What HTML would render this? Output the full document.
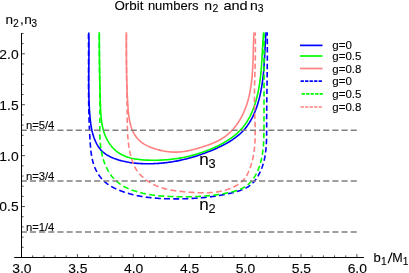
<!DOCTYPE html>
<html><head><meta charset="utf-8"><title>Orbit numbers</title>
<style>
html,body{margin:0;padding:0;background:#fff;}
body{width:409px;height:273px;overflow:hidden;font-family:"Liberation Sans",sans-serif;}
svg{display:block;position:absolute;left:0;top:0;will-change:transform;}
text{font-family:"Liberation Sans",sans-serif;fill:#000;stroke:#000;stroke-width:0.1px;}
</style></head><body>
<svg width="409" height="273" viewBox="0 0 409 273">
<rect width="409" height="273" fill="#fff"/>
<g fill="none" stroke-width="1.6" stroke-linejoin="round">
<path d="M88.75,32.43 L88.78,33.67 L88.81,34.92 L88.83,36.17 L88.85,37.42 L88.87,38.67 L88.89,39.92 L88.90,41.17 L88.91,42.43 L88.92,43.68 L88.92,44.94 L88.93,46.19 L88.93,47.45 L88.93,48.70 L88.93,49.96 L88.92,51.22 L88.92,52.48 L88.91,53.74 L88.90,55.00 L88.89,56.26 L88.89,57.52 L88.87,58.78 L88.86,60.04 L88.85,61.30 L88.84,62.56 L88.83,63.82 L88.82,65.09 L88.80,66.35 L88.79,67.61 L88.78,68.87 L88.77,70.14 L88.76,71.40 L88.75,72.66 L88.74,73.93 L88.73,75.19 L88.72,76.45 L88.72,77.72 L88.72,78.98 L88.71,80.24 L88.71,81.50 L88.71,82.77 L88.72,84.03 L88.72,85.29 L88.73,86.55 L88.74,87.81 L88.75,89.07 L88.77,90.34 L88.79,91.60 L88.81,92.86 L88.84,94.11 L88.86,95.37 L88.89,96.63 L88.93,97.89 L88.97,99.15 L89.01,100.40 L89.06,101.66 L89.11,102.91 L89.16,104.17 L89.22,105.42 L89.29,106.67 L89.35,107.93 L89.43,109.18 L89.51,110.43 L89.59,111.68 L89.68,112.93 L89.77,114.17 L89.87,115.42 L89.98,116.67 L90.09,117.91 L90.21,119.15 L90.34,120.39 L90.48,121.63 L90.63,122.87 L90.80,124.11 L90.98,125.34 L91.18,126.57 L91.39,127.80 L91.63,129.02 L91.88,130.24 L92.16,131.46 L92.46,132.68 L92.79,133.89 L93.14,135.09 L93.52,136.30 L93.93,137.50 L94.37,138.69 L94.85,139.88 L95.35,141.06 L95.90,142.24 L96.47,143.41 L97.09,144.55 L97.74,145.68 L98.43,146.78 L99.16,147.84 L99.93,148.86 L100.74,149.83 L101.59,150.74 L102.48,151.61 L103.40,152.42 L104.37,153.18 L105.36,153.90 L106.38,154.58 L107.43,155.21 L108.50,155.81 L109.59,156.38 L110.70,156.92 L111.82,157.43 L112.96,157.91 L114.10,158.38 L115.26,158.82 L116.43,159.23 L117.61,159.63 L118.79,160.01 L119.99,160.36 L121.19,160.69 L122.40,161.01 L123.62,161.30 L124.85,161.58 L126.08,161.84 L127.32,162.07 L128.56,162.30 L129.81,162.50 L131.06,162.69 L132.32,162.86 L133.58,163.01 L134.85,163.15 L136.12,163.27 L137.39,163.38 L138.66,163.47 L139.93,163.55 L141.21,163.62 L142.48,163.67 L143.76,163.71 L145.04,163.74 L146.31,163.76 L147.59,163.76 L148.86,163.76 L150.13,163.74 L151.40,163.71 L152.66,163.68 L153.93,163.63 L155.19,163.57 L156.45,163.50 L157.70,163.43 L158.96,163.34 L160.21,163.24 L161.46,163.13 L162.71,163.02 L163.95,162.89 L165.19,162.75 L166.44,162.61 L167.67,162.45 L168.91,162.28 L170.14,162.11 L171.38,161.92 L172.61,161.73 L173.84,161.52 L175.06,161.31 L176.29,161.09 L177.51,160.85 L178.73,160.61 L179.95,160.36 L181.17,160.10 L182.38,159.83 L183.59,159.55 L184.80,159.26 L186.01,158.97 L187.22,158.66 L188.43,158.34 L189.63,158.02 L190.83,157.69 L192.03,157.34 L193.23,156.99 L194.43,156.63 L195.63,156.26 L196.82,155.89 L198.01,155.50 L199.20,155.11 L200.39,154.70 L201.58,154.29 L202.77,153.87 L203.95,153.44 L205.14,153.00 L206.32,152.55 L207.50,152.10 L208.68,151.63 L209.86,151.16 L211.04,150.68 L212.21,150.19 L213.39,149.70 L214.56,149.19 L215.73,148.68 L216.90,148.16 L218.06,147.62 L219.22,147.08 L220.38,146.53 L221.53,145.97 L222.67,145.39 L223.81,144.81 L224.94,144.21 L226.06,143.60 L227.17,142.98 L228.27,142.34 L229.36,141.69 L230.43,141.03 L231.50,140.35 L232.55,139.65 L233.59,138.94 L234.61,138.22 L235.62,137.48 L236.61,136.72 L237.59,135.94 L238.54,135.15 L239.48,134.34 L240.40,133.51 L241.30,132.66 L242.18,131.79 L243.04,130.90 L243.87,130.00 L244.68,129.07 L245.47,128.12 L246.24,127.15 L246.99,126.17 L247.71,125.16 L248.41,124.14 L249.10,123.10 L249.76,122.05 L250.40,120.98 L251.02,119.90 L251.62,118.80 L252.21,117.69 L252.77,116.56 L253.32,115.43 L253.84,114.28 L254.35,113.12 L254.85,111.95 L255.32,110.77 L255.78,109.58 L256.22,108.39 L256.65,107.18 L257.06,105.97 L257.46,104.76 L257.84,103.53 L258.20,102.31 L258.55,101.08 L258.89,99.84 L259.22,98.60 L259.53,97.36 L259.82,96.12 L260.11,94.87 L260.38,93.63 L260.64,92.38 L260.89,91.14 L261.13,89.90 L261.36,88.65 L261.58,87.41 L261.78,86.17 L261.98,84.93 L262.17,83.68 L262.35,82.44 L262.51,81.20 L262.68,79.96 L262.83,78.72 L262.97,77.48 L263.11,76.23 L263.24,74.99 L263.37,73.75 L263.49,72.51 L263.60,71.27 L263.71,70.02 L263.81,68.78 L263.90,67.54 L264.00,66.29 L264.08,65.05 L264.17,63.81 L264.25,62.56 L264.33,61.31 L264.40,60.07 L264.47,58.82 L264.55,57.57 L264.61,56.32 L264.68,55.07 L264.75,53.82 L264.81,52.57 L264.88,51.32 L264.94,50.06 L265.01,48.81 L265.08,47.55 L265.15,46.29 L265.21,45.03 L265.29,43.77 L265.36,42.51 L265.44,41.25 L265.51,39.98 L265.60,38.72 L265.68,37.45 L265.77,36.18 L265.87,34.91 L265.96,33.64 L266.07,32.36" stroke="#0000ff"/>
<path d="M99.29,32.35 L99.30,33.58 L99.31,34.80 L99.31,36.02 L99.32,37.24 L99.33,38.45 L99.34,39.67 L99.35,40.88 L99.36,42.09 L99.36,43.30 L99.37,44.51 L99.38,45.71 L99.39,46.91 L99.40,48.12 L99.41,49.32 L99.42,50.52 L99.43,51.71 L99.44,52.91 L99.45,54.11 L99.46,55.30 L99.47,56.49 L99.48,57.69 L99.49,58.88 L99.50,60.07 L99.52,61.26 L99.53,62.45 L99.54,63.64 L99.56,64.83 L99.57,66.02 L99.58,67.21 L99.60,68.39 L99.62,69.58 L99.63,70.77 L99.65,71.96 L99.67,73.14 L99.68,74.33 L99.70,75.52 L99.72,76.71 L99.74,77.89 L99.76,79.08 L99.78,80.27 L99.81,81.46 L99.83,82.65 L99.85,83.84 L99.88,85.03 L99.90,86.23 L99.93,87.42 L99.96,88.61 L99.99,89.81 L100.02,91.01 L100.05,92.20 L100.08,93.40 L100.11,94.60 L100.14,95.80 L100.18,97.01 L100.21,98.21 L100.25,99.42 L100.29,100.62 L100.33,101.83 L100.36,103.05 L100.41,104.26 L100.45,105.47 L100.49,106.69 L100.54,107.91 L100.59,109.13 L100.65,110.35 L100.71,111.57 L100.78,112.79 L100.86,114.00 L100.94,115.22 L101.04,116.43 L101.16,117.65 L101.28,118.85 L101.42,120.06 L101.57,121.26 L101.74,122.46 L101.93,123.65 L102.14,124.84 L102.37,126.02 L102.62,127.19 L102.89,128.36 L103.19,129.52 L103.51,130.68 L103.85,131.82 L104.23,132.96 L104.63,134.08 L105.06,135.20 L105.52,136.31 L106.01,137.41 L106.53,138.49 L107.08,139.56 L107.65,140.61 L108.26,141.64 L108.89,142.65 L109.55,143.65 L110.24,144.62 L110.96,145.57 L111.71,146.49 L112.48,147.38 L113.27,148.25 L114.10,149.09 L114.94,149.90 L115.82,150.67 L116.72,151.41 L117.64,152.12 L118.59,152.78 L119.56,153.41 L120.56,154.01 L121.57,154.57 L122.61,155.09 L123.67,155.59 L124.75,156.05 L125.84,156.48 L126.95,156.88 L128.08,157.25 L129.22,157.59 L130.37,157.91 L131.54,158.20 L132.72,158.47 L133.91,158.71 L135.11,158.93 L136.31,159.13 L137.53,159.31 L138.75,159.47 L139.98,159.61 L141.21,159.73 L142.45,159.84 L143.68,159.93 L144.92,160.01 L146.16,160.08 L147.40,160.13 L148.64,160.17 L149.88,160.21 L151.11,160.23 L152.34,160.24 L153.56,160.25 L154.78,160.25 L156.00,160.23 L157.22,160.21 L158.43,160.18 L159.64,160.15 L160.84,160.10 L162.04,160.04 L163.24,159.98 L164.44,159.90 L165.63,159.82 L166.82,159.72 L168.01,159.62 L169.19,159.51 L170.37,159.39 L171.55,159.26 L172.73,159.12 L173.90,158.98 L175.08,158.82 L176.24,158.65 L177.41,158.48 L178.58,158.29 L179.74,158.10 L180.90,157.89 L182.06,157.68 L183.22,157.46 L184.38,157.23 L185.53,156.98 L186.68,156.73 L187.83,156.47 L188.98,156.20 L190.13,155.92 L191.28,155.63 L192.42,155.33 L193.57,155.02 L194.71,154.70 L195.85,154.38 L196.99,154.04 L198.13,153.69 L199.27,153.33 L200.41,152.96 L201.54,152.58 L202.68,152.20 L203.82,151.80 L204.95,151.39 L206.08,150.97 L207.21,150.54 L208.34,150.10 L209.46,149.65 L210.58,149.19 L211.70,148.72 L212.81,148.24 L213.92,147.74 L215.03,147.24 L216.13,146.72 L217.22,146.20 L218.32,145.66 L219.40,145.11 L220.48,144.54 L221.55,143.97 L222.62,143.38 L223.67,142.78 L224.73,142.17 L225.77,141.55 L226.81,140.91 L227.83,140.26 L228.85,139.60 L229.86,138.93 L230.85,138.24 L231.83,137.54 L232.80,136.82 L233.76,136.09 L234.70,135.34 L235.63,134.58 L236.54,133.80 L237.43,133.01 L238.30,132.20 L239.16,131.37 L239.99,130.53 L240.80,129.67 L241.60,128.79 L242.37,127.90 L243.12,126.99 L243.85,126.06 L244.56,125.12 L245.25,124.16 L245.93,123.19 L246.58,122.21 L247.21,121.21 L247.83,120.20 L248.43,119.18 L249.01,118.14 L249.57,117.10 L250.11,116.04 L250.64,114.97 L251.15,113.89 L251.64,112.80 L252.12,111.70 L252.58,110.60 L253.03,109.48 L253.46,108.36 L253.88,107.23 L254.28,106.10 L254.67,104.95 L255.05,103.80 L255.41,102.65 L255.75,101.49 L256.09,100.33 L256.41,99.16 L256.72,97.99 L257.01,96.82 L257.30,95.64 L257.57,94.46 L257.83,93.28 L258.08,92.10 L258.32,90.92 L258.55,89.73 L258.77,88.55 L258.99,87.37 L259.19,86.18 L259.38,84.99 L259.56,83.81 L259.74,82.62 L259.90,81.43 L260.06,80.24 L260.21,79.05 L260.36,77.86 L260.49,76.66 L260.63,75.47 L260.75,74.28 L260.87,73.09 L260.98,71.89 L261.09,70.70 L261.19,69.50 L261.29,68.31 L261.38,67.11 L261.47,65.92 L261.56,64.72 L261.64,63.52 L261.72,62.33 L261.80,61.13 L261.87,59.93 L261.94,58.73 L262.01,57.54 L262.08,56.34 L262.15,55.14 L262.22,53.94 L262.28,52.75 L262.35,51.55 L262.41,50.35 L262.48,49.15 L262.55,47.96 L262.61,46.76 L262.68,45.56 L262.75,44.36 L262.83,43.17 L262.90,41.97 L262.98,40.78 L263.06,39.58 L263.14,38.38 L263.23,37.19 L263.32,36.00 L263.41,34.80 L263.51,33.61 L263.62,32.41" stroke="#00ff00"/>
<path d="M126.40,32.36 L126.40,33.43 L126.40,34.50 L126.40,35.56 L126.40,36.63 L126.40,37.69 L126.40,38.76 L126.40,39.82 L126.39,40.88 L126.39,41.93 L126.39,42.99 L126.39,44.05 L126.39,45.10 L126.39,46.16 L126.39,47.21 L126.40,48.26 L126.40,49.31 L126.40,50.36 L126.40,51.41 L126.41,52.46 L126.41,53.51 L126.41,54.55 L126.42,55.60 L126.42,56.64 L126.43,57.69 L126.43,58.73 L126.44,59.78 L126.45,60.82 L126.46,61.86 L126.47,62.91 L126.48,63.95 L126.49,64.99 L126.50,66.03 L126.51,67.07 L126.53,68.12 L126.54,69.16 L126.56,70.20 L126.58,71.24 L126.59,72.28 L126.61,73.32 L126.63,74.36 L126.65,75.41 L126.68,76.45 L126.70,77.49 L126.72,78.53 L126.75,79.58 L126.78,80.62 L126.81,81.66 L126.84,82.71 L126.87,83.75 L126.90,84.80 L126.93,85.84 L126.97,86.89 L127.01,87.94 L127.04,88.98 L127.08,90.03 L127.13,91.08 L127.17,92.13 L127.21,93.18 L127.26,94.24 L127.31,95.29 L127.36,96.34 L127.41,97.40 L127.46,98.46 L127.52,99.51 L127.57,100.57 L127.63,101.63 L127.69,102.69 L127.76,103.76 L127.82,104.82 L127.89,105.89 L127.96,106.95 L128.03,108.02 L128.11,109.09 L128.19,110.15 L128.28,111.22 L128.38,112.29 L128.49,113.35 L128.61,114.41 L128.73,115.47 L128.87,116.52 L129.03,117.57 L129.19,118.62 L129.37,119.66 L129.57,120.69 L129.78,121.72 L130.01,122.74 L130.26,123.76 L130.53,124.77 L130.82,125.77 L131.13,126.77 L131.46,127.75 L131.82,128.73 L132.20,129.69 L132.61,130.65 L133.04,131.59 L133.50,132.52 L133.99,133.44 L134.50,134.34 L135.04,135.22 L135.61,136.08 L136.21,136.92 L136.83,137.73 L137.49,138.52 L138.17,139.28 L138.88,140.02 L139.62,140.72 L140.39,141.40 L141.19,142.05 L142.01,142.66 L142.86,143.26 L143.73,143.83 L144.62,144.37 L145.53,144.89 L146.46,145.38 L147.40,145.86 L148.36,146.31 L149.33,146.74 L150.31,147.15 L151.31,147.55 L152.31,147.92 L153.32,148.28 L154.34,148.62 L155.37,148.95 L156.39,149.27 L157.42,149.56 L158.46,149.85 L159.49,150.12 L160.53,150.37 L161.57,150.61 L162.62,150.83 L163.66,151.03 L164.71,151.22 L165.76,151.39 L166.80,151.54 L167.85,151.68 L168.90,151.80 L169.95,151.90 L171.00,151.99 L172.05,152.06 L173.09,152.10 L174.14,152.13 L175.18,152.15 L176.22,152.14 L177.26,152.11 L178.29,152.07 L179.32,152.00 L180.35,151.92 L181.38,151.82 L182.41,151.70 L183.43,151.57 L184.46,151.43 L185.48,151.26 L186.50,151.09 L187.51,150.90 L188.53,150.69 L189.55,150.48 L190.56,150.25 L191.58,150.01 L192.59,149.77 L193.60,149.51 L194.62,149.24 L195.63,148.96 L196.64,148.68 L197.66,148.39 L198.67,148.09 L199.68,147.79 L200.70,147.48 L201.72,147.17 L202.73,146.85 L203.75,146.52 L204.76,146.19 L205.78,145.85 L206.79,145.51 L207.80,145.15 L208.80,144.79 L209.80,144.42 L210.80,144.04 L211.79,143.65 L212.78,143.25 L213.76,142.83 L214.73,142.40 L215.70,141.96 L216.66,141.51 L217.60,141.05 L218.54,140.56 L219.47,140.07 L220.39,139.55 L221.30,139.03 L222.19,138.48 L223.08,137.92 L223.95,137.34 L224.81,136.74 L225.65,136.12 L226.48,135.48 L227.29,134.82 L228.09,134.15 L228.87,133.46 L229.64,132.75 L230.40,132.02 L231.14,131.28 L231.87,130.53 L232.58,129.75 L233.28,128.97 L233.97,128.17 L234.64,127.36 L235.29,126.54 L235.93,125.70 L236.56,124.86 L237.17,124.00 L237.77,123.13 L238.35,122.26 L238.92,121.37 L239.48,120.48 L240.02,119.58 L240.54,118.67 L241.05,117.75 L241.55,116.83 L242.04,115.91 L242.50,114.97 L242.96,114.04 L243.40,113.09 L243.83,112.15 L244.24,111.19 L244.64,110.23 L245.03,109.27 L245.41,108.30 L245.77,107.33 L246.13,106.36 L246.47,105.37 L246.79,104.39 L247.11,103.40 L247.42,102.41 L247.71,101.41 L248.00,100.41 L248.27,99.40 L248.53,98.40 L248.79,97.38 L249.03,96.37 L249.26,95.35 L249.49,94.33 L249.70,93.30 L249.91,92.28 L250.11,91.25 L250.29,90.21 L250.48,89.18 L250.65,88.14 L250.81,87.10 L250.97,86.06 L251.12,85.01 L251.26,83.96 L251.40,82.92 L251.52,81.87 L251.65,80.81 L251.76,79.76 L251.87,78.70 L251.97,77.65 L252.07,76.59 L252.17,75.53 L252.25,74.47 L252.34,73.41 L252.41,72.35 L252.49,71.29 L252.56,70.22 L252.62,69.16 L252.68,68.10 L252.74,67.03 L252.79,65.97 L252.84,64.90 L252.89,63.84 L252.94,62.78 L252.98,61.71 L253.02,60.65 L253.06,59.59 L253.09,58.53 L253.13,57.46 L253.16,56.40 L253.19,55.34 L253.22,54.29 L253.25,53.23 L253.28,52.17 L253.31,51.12 L253.34,50.07 L253.37,49.02 L253.40,47.97 L253.43,46.92 L253.46,45.87 L253.50,44.83 L253.53,43.79 L253.56,42.75 L253.60,41.72 L253.64,40.68 L253.68,39.65 L253.72,38.62 L253.77,37.60 L253.82,36.58 L253.87,35.56 L253.93,34.54 L253.98,33.53 L254.05,32.52" stroke="#ff8080"/>
<path d="M88.46,33.94 L88.47,34.86 L88.48,35.79 L88.49,36.71 L88.50,37.63 L88.51,38.55 L88.52,39.32M88.54,42.24 L88.54,43.16 L88.55,44.09 L88.55,45.01 L88.56,45.93 L88.56,46.85 L88.56,47.62M88.57,50.54 L88.58,51.47 L88.58,52.39 L88.58,53.31 L88.58,54.24 L88.58,55.16 L88.58,55.93M88.58,59.00 L88.58,59.93 L88.58,60.85 L88.58,61.77 L88.58,62.70 L88.57,63.62 L88.57,64.39M88.57,67.31 L88.57,68.23 L88.57,69.16 L88.56,70.08 L88.56,71.00 L88.56,71.93 L88.56,72.70M88.56,75.62 L88.56,76.54 L88.56,77.47 L88.56,78.39 L88.56,79.31 L88.56,80.24 L88.56,81.00M88.56,83.93 L88.56,84.85 L88.56,85.77 L88.57,86.70 L88.57,87.62 L88.57,88.54 L88.57,89.31M88.59,92.24 L88.59,93.16 L88.60,94.08 L88.61,95.01 L88.62,95.93 L88.62,96.85 L88.63,97.62M88.66,100.70 L88.67,101.62 L88.69,102.54 L88.70,103.47 L88.71,104.39 L88.73,105.31 L88.74,106.08M88.79,109.00 L88.81,109.93 L88.83,110.85 L88.85,111.77 L88.87,112.69 L88.89,113.62 L88.91,114.39M88.99,117.31 L89.02,118.23 L89.05,119.15 L89.08,120.08 L89.11,121.00 L89.14,121.92 L89.16,122.69M89.28,125.61 L89.31,126.53 L89.35,127.45 L89.39,128.37 L89.43,129.30 L89.48,130.22 L89.51,130.99M89.67,134.06 L89.72,134.98 L89.77,135.90 L89.82,136.82 L89.88,137.75 L89.93,138.67 L89.98,139.43M90.17,142.35 L90.23,143.27 L90.30,144.19 L90.36,145.11 L90.44,146.03 L90.51,146.95 L90.58,147.72M90.87,150.62 L90.97,151.53 L91.09,152.45 L91.21,153.36 L91.34,154.26 L91.48,155.17 L91.61,155.92M92.19,158.92 L92.39,159.81 L92.61,160.70 L92.84,161.58 L93.08,162.46 L93.34,163.34 L93.57,164.07M94.61,166.96 L94.96,167.81 L95.34,168.66 L95.73,169.51 L96.14,170.35 L96.57,171.19 L96.95,171.88M98.49,174.43 L99.02,175.22 L99.56,175.99 L100.13,176.75 L100.70,177.49 L101.30,178.22 L101.91,178.93M104.07,181.16 L104.75,181.78 L105.44,182.38 L106.15,182.97 L106.87,183.53 L107.61,184.07 L108.36,184.60 L108.48,184.68M111.18,186.38 L111.98,186.83 L112.78,187.26 L113.59,187.68 L114.40,188.09 L115.23,188.49 L116.05,188.88 L116.33,189.00M119.27,190.27 L120.11,190.61 L120.96,190.94 L121.82,191.26 L122.68,191.58 L123.54,191.88 L124.40,192.18 L124.83,192.33M127.88,193.29 L128.76,193.55 L129.64,193.80 L130.53,194.05 L131.41,194.28 L132.30,194.51 L133.19,194.73 L133.49,194.80M136.63,195.51 L137.53,195.70 L138.44,195.88 L139.34,196.05 L140.25,196.22 L141.16,196.38 L142.07,196.54 L142.53,196.61M145.73,197.10 L146.65,197.22 L147.57,197.34 L148.49,197.46 L149.42,197.57 L150.34,197.67 L151.26,197.77 L151.57,197.80M154.82,198.10 L155.75,198.17 L156.68,198.24 L157.61,198.31 L158.54,198.37 L159.47,198.43 L160.40,198.48 L160.87,198.51M163.97,198.65 L164.90,198.68 L165.84,198.72 L166.77,198.74 L167.70,198.77 L168.63,198.79 L169.56,198.81 L170.03,198.81M173.28,198.85 L174.21,198.85 L175.14,198.85 L176.07,198.85 L176.99,198.85 L177.92,198.84 L178.84,198.83 L179.15,198.83M182.37,198.78 L183.29,198.76 L184.21,198.74 L185.13,198.71 L186.05,198.69 L186.97,198.66 L187.88,198.62 L188.34,198.61M191.54,198.46 L192.46,198.42 L193.37,198.37 L194.28,198.31 L195.20,198.26 L196.11,198.20 L197.02,198.13 L197.63,198.09M200.82,197.84 L201.73,197.76 L202.64,197.67 L203.55,197.59 L204.46,197.50 L205.37,197.40 L206.28,197.31 L206.73,197.26M209.91,196.88 L210.82,196.76 L211.73,196.64 L212.64,196.52 L213.55,196.39 L214.46,196.26 L215.37,196.12 L215.83,196.05M219.02,195.54 L219.93,195.38 L220.84,195.22 L221.75,195.05 L222.67,194.88 L223.58,194.71 L224.49,194.53 L224.80,194.47M228.00,193.80 L228.92,193.59 L229.83,193.39 L230.75,193.17 L231.66,192.95 L232.58,192.73 L233.49,192.49 L233.79,192.41M236.81,191.56 L237.70,191.28 L238.59,190.99 L239.48,190.69 L240.36,190.38 L241.24,190.06 L242.11,189.72 L242.39,189.61M245.35,188.28 L246.17,187.86 L246.97,187.42 L247.76,186.96 L248.52,186.47 L249.27,185.95 L250.00,185.41 L250.24,185.22M252.51,183.19 L253.15,182.53 L253.77,181.86 L254.37,181.16 L254.95,180.45 L255.52,179.72 L256.06,178.97 L256.15,178.84M257.76,176.40 L258.23,175.61 L258.68,174.81 L259.12,174.00 L259.54,173.19 L259.94,172.37 L260.33,171.55M261.52,168.77 L261.85,167.93 L262.16,167.08 L262.46,166.23 L262.74,165.37 L263.01,164.51 L263.27,163.65M264.04,160.73 L264.25,159.85 L264.45,158.96 L264.63,158.07 L264.81,157.18 L264.97,156.28 L265.13,155.38M265.55,152.52 L265.67,151.61 L265.78,150.69 L265.88,149.78 L265.97,148.86 L266.05,147.94 L266.12,147.17M266.32,144.23 L266.38,143.30 L266.42,142.37 L266.46,141.44 L266.50,140.51 L266.53,139.57 L266.56,138.79M266.62,135.82 L266.63,134.88 L266.64,133.94 L266.65,133.00 L266.66,132.06 L266.66,131.12 L266.66,130.49M266.66,127.51 L266.66,126.58 L266.66,125.64 L266.66,124.70 L266.66,123.76 L266.66,122.82 L266.66,122.20M266.66,119.24 L266.66,118.31 L266.67,117.38 L266.67,116.44 L266.68,115.51 L266.68,114.58 L266.69,113.81M266.71,110.87 L266.72,109.94 L266.72,109.02 L266.73,108.09 L266.74,107.17 L266.75,106.24 L266.76,105.47M266.79,102.55 L266.80,101.63 L266.81,100.71 L266.83,99.78 L266.84,98.86 L266.85,97.94 L266.86,97.18M266.90,94.11 L266.91,93.19 L266.93,92.27 L266.94,91.36 L266.95,90.44 L266.97,89.52 L266.98,88.76M267.02,85.85 L267.03,84.94 L267.05,84.02 L267.06,83.10 L267.07,82.19 L267.08,81.27 L267.10,80.51M267.14,77.45 L267.15,76.54 L267.16,75.62 L267.17,74.70 L267.18,73.79 L267.19,72.87 L267.20,72.11M267.24,69.20 L267.25,68.29 L267.25,67.37 L267.26,66.45 L267.27,65.53 L267.28,64.62 L267.29,63.70M267.31,60.79 L267.31,59.87 L267.32,58.95 L267.32,58.03 L267.33,57.11 L267.33,56.19 L267.33,55.42M267.34,52.50 L267.34,51.58 L267.34,50.65 L267.33,49.73 L267.33,48.80 L267.33,47.88 L267.33,47.11M267.31,44.17 L267.30,43.24 L267.29,42.31 L267.29,41.38 L267.28,40.45 L267.27,39.52 L267.26,38.75M267.21,35.79 L267.20,34.86 L267.18,33.92 L267.16,32.98 L267.15,32.36" stroke="#0000ff"/>
<path d="M99.29,34.32 L99.28,35.22 L99.27,36.12 L99.27,37.03 L99.26,37.93 L99.26,38.83 L99.25,39.73M99.25,42.72 L99.25,43.62 L99.25,44.52 L99.25,45.41 L99.26,46.31 L99.26,47.20 L99.26,48.10M99.28,51.07 L99.29,51.97 L99.30,52.86 L99.31,53.75 L99.31,54.64 L99.32,55.53 L99.33,56.42M99.37,59.39 L99.38,60.28 L99.39,61.17 L99.40,62.06 L99.42,62.94 L99.43,63.83 L99.44,64.72M99.49,67.68 L99.50,68.57 L99.52,69.45 L99.53,70.34 L99.54,71.23 L99.56,72.11 L99.57,73.00 L99.58,73.15M99.62,76.10 L99.64,76.99 L99.65,77.88 L99.67,78.76 L99.68,79.65 L99.70,80.54 L99.71,81.43M99.76,84.38 L99.77,85.27 L99.78,86.16 L99.79,87.05 L99.81,87.94 L99.82,88.82 L99.83,89.71M99.86,92.68 L99.87,93.57 L99.88,94.46 L99.89,95.35 L99.90,96.24 L99.91,97.13 L99.91,98.02 L99.91,98.17M99.93,101.00 L99.94,101.89 L99.94,102.78 L99.94,103.68 L99.94,104.57 L99.94,105.47 L99.94,106.36 L99.94,106.51M99.94,109.36 L99.94,110.25 L99.93,111.15 L99.93,112.05 L99.92,112.95 L99.91,113.85 L99.90,114.76M99.87,117.77 L99.86,118.67 L99.85,119.58 L99.83,120.48 L99.82,121.39 L99.81,122.29 L99.80,123.05M99.77,126.07 L99.77,126.98 L99.77,127.88 L99.77,128.79 L99.77,129.69 L99.77,130.60 L99.78,131.50M99.84,134.35 L99.86,135.25 L99.89,136.15 L99.93,137.05 L99.97,137.95 L100.01,138.84 L100.06,139.74M100.28,142.70 L100.35,143.59 L100.44,144.48 L100.53,145.36 L100.63,146.24 L100.74,147.12 L100.86,148.00 L100.88,148.14M101.33,151.05 L101.49,151.91 L101.65,152.78 L101.83,153.64 L102.02,154.49 L102.21,155.35 L102.42,156.20 L102.45,156.34M103.23,159.16 L103.49,159.99 L103.76,160.83 L104.04,161.66 L104.34,162.49 L104.65,163.31 L104.97,164.13 L105.02,164.26M106.26,167.10 L106.65,167.90 L107.05,168.70 L107.47,169.49 L107.90,170.28 L108.34,171.06 L108.80,171.83M110.53,174.48 L111.06,175.21 L111.60,175.93 L112.16,176.64 L112.73,177.34 L113.31,178.03 L113.91,178.70 L114.01,178.81M116.13,180.91 L116.79,181.51 L117.47,182.08 L118.16,182.64 L118.87,183.18 L119.58,183.71 L120.31,184.21 L120.68,184.46M123.33,186.09 L124.11,186.52 L124.90,186.94 L125.69,187.35 L126.49,187.74 L127.30,188.12 L128.12,188.49 L128.66,188.72M131.57,189.89 L132.41,190.20 L133.25,190.50 L134.09,190.80 L134.94,191.08 L135.79,191.35 L136.64,191.61 L137.20,191.78M140.21,192.62 L141.07,192.84 L141.94,193.05 L142.80,193.25 L143.67,193.45 L144.54,193.64 L145.42,193.82 L146.00,193.93M149.22,194.52 L150.10,194.66 L150.98,194.80 L151.86,194.93 L152.75,195.05 L153.63,195.17 L154.52,195.28 L155.11,195.36M158.23,195.70 L159.12,195.78 L160.01,195.86 L160.91,195.94 L161.80,196.01 L162.70,196.08 L163.59,196.14 L164.19,196.18M167.47,196.37 L168.37,196.41 L169.26,196.45 L170.16,196.49 L171.06,196.52 L171.95,196.55 L172.85,196.58 L173.44,196.60M176.57,196.68 L177.47,196.69 L178.36,196.71 L179.25,196.72 L180.14,196.74 L181.03,196.75 L181.92,196.75 L182.66,196.76M185.78,196.76 L186.66,196.76 L187.55,196.75 L188.44,196.75 L189.33,196.73 L190.21,196.72 L191.10,196.70 L191.84,196.69M195.09,196.59 L195.97,196.56 L196.86,196.52 L197.74,196.48 L198.63,196.44 L199.51,196.40 L200.40,196.35 L200.99,196.31M204.23,196.09 L205.12,196.03 L206.00,195.95 L206.89,195.88 L207.77,195.80 L208.66,195.71 L209.54,195.63 L210.13,195.57M213.38,195.20 L214.27,195.09 L215.16,194.98 L216.04,194.86 L216.93,194.73 L217.82,194.60 L218.71,194.47 L219.15,194.40M222.42,193.87 L223.31,193.71 L224.20,193.55 L225.09,193.38 L225.98,193.21 L226.88,193.03 L227.77,192.84 L228.22,192.75M231.34,192.04 L232.23,191.82 L233.12,191.60 L234.00,191.36 L234.87,191.11 L235.74,190.84 L236.61,190.57 L237.04,190.43M240.12,189.27 L240.93,188.92 L241.74,188.55 L242.53,188.16 L243.31,187.75 L244.08,187.33 L244.83,186.88 L245.20,186.65M247.79,184.77 L248.46,184.21 L249.11,183.63 L249.74,183.02 L250.36,182.40 L250.95,181.76 L251.53,181.10 L251.71,180.87M253.56,178.41 L254.05,177.67 L254.52,176.92 L254.98,176.16 L255.42,175.40 L255.84,174.62 L256.25,173.84 L256.38,173.58M257.63,170.94 L257.98,170.14 L258.31,169.33 L258.64,168.51 L258.94,167.70 L259.24,166.87 L259.53,166.05 L259.62,165.77M260.47,162.98 L260.70,162.14 L260.92,161.29 L261.14,160.43 L261.34,159.58 L261.53,158.72 L261.71,157.85 L261.74,157.71M262.27,154.81 L262.42,153.93 L262.55,153.05 L262.68,152.17 L262.79,151.28 L262.91,150.40 L263.01,149.51M263.31,146.53 L263.38,145.63 L263.45,144.73 L263.51,143.83 L263.57,142.93 L263.63,142.02 L263.67,141.12M263.80,138.24 L263.83,137.33 L263.85,136.42 L263.88,135.51 L263.90,134.60 L263.91,133.69 L263.93,132.78M263.96,129.89 L263.97,128.98 L263.97,128.07 L263.98,127.16 L263.98,126.25 L263.98,125.34 L263.98,124.43M263.99,121.56 L263.99,120.65 L263.99,119.75 L263.99,118.85 L264.00,117.95 L264.00,117.04 L264.00,116.14M264.01,113.15 L264.01,112.25 L264.01,111.35 L264.01,110.46 L264.01,109.56 L264.01,108.67 L264.01,107.77M264.02,104.80 L264.02,103.90 L264.02,103.01 L264.02,102.12 L264.02,101.23 L264.02,100.34 L264.03,99.45M264.03,96.49 L264.03,95.60 L264.03,94.72 L264.03,93.83 L264.03,92.94 L264.03,92.06 L264.03,91.17M264.04,88.22 L264.04,87.34 L264.04,86.45 L264.04,85.57 L264.04,84.68 L264.04,83.80 L264.04,82.91 L264.04,82.76M264.04,79.82 L264.04,78.93 L264.04,78.05 L264.04,77.16 L264.04,76.28 L264.04,75.40 L264.04,74.51M264.04,71.56 L264.04,70.68 L264.04,69.79 L264.04,68.91 L264.04,68.02 L264.04,67.14 L264.04,66.25 L264.04,66.10M264.04,63.15 L264.04,62.26 L264.04,61.37 L264.04,60.48 L264.04,59.59 L264.04,58.70 L264.03,57.81M264.03,54.85 L264.03,53.95 L264.03,53.06 L264.03,52.17 L264.03,51.27 L264.02,50.38 L264.02,49.49M264.02,46.50 L264.02,45.60 L264.01,44.70 L264.01,43.80 L264.01,42.90 L264.01,42.00 L264.01,41.10M264.00,38.09 L264.00,37.19 L263.99,36.28 L263.99,35.37 L263.99,34.47 L263.99,33.56 L263.98,32.80" stroke="#00ff00"/>
<path d="M126.40,34.43 L126.39,35.24 L126.38,36.05 L126.38,36.87 L126.37,37.68 L126.37,38.49 L126.37,39.30 L126.36,39.84M126.36,42.69 L126.35,43.50 L126.35,44.31 L126.35,45.12 L126.35,45.93 L126.35,46.75 L126.35,47.56 L126.36,48.10M126.36,51.08 L126.37,51.89 L126.37,52.70 L126.38,53.51 L126.38,54.32 L126.38,55.13 L126.39,55.94 L126.39,56.35M126.41,59.33 L126.42,60.14 L126.43,60.95 L126.44,61.76 L126.44,62.57 L126.45,63.38 L126.46,64.19 L126.47,64.73M126.50,67.57 L126.51,68.38 L126.52,69.20 L126.53,70.01 L126.54,70.82 L126.55,71.63 L126.56,72.44 L126.57,72.98M126.61,75.96 L126.62,76.77 L126.63,77.58 L126.64,78.39 L126.65,79.20 L126.67,80.01 L126.68,80.82 L126.69,81.36M126.73,84.20 L126.74,85.01 L126.76,85.83 L126.77,86.64 L126.78,87.45 L126.79,88.26 L126.81,89.07 L126.82,89.61M126.86,92.59 L126.88,93.40 L126.89,94.21 L126.90,95.02 L126.91,95.83 L126.93,96.64 L126.94,97.46 L126.95,98.00M126.99,100.84 L127.01,101.65 L127.02,102.46 L127.03,103.27 L127.04,104.09 L127.05,104.90 L127.07,105.71 L127.07,106.25M127.11,109.23 L127.13,110.04 L127.14,110.85 L127.15,111.67 L127.16,112.48 L127.17,113.29 L127.18,114.10 L127.18,114.51M127.22,117.49 L127.23,118.30 L127.24,119.12 L127.25,119.93 L127.26,120.74 L127.27,121.55 L127.28,122.37 L127.29,122.91M127.34,125.75 L127.36,126.56 L127.38,127.37 L127.41,128.18 L127.43,129.00 L127.46,129.81 L127.49,130.62 L127.51,131.16M127.66,134.13 L127.71,134.93 L127.76,135.74 L127.81,136.55 L127.87,137.36 L127.94,138.16 L128.00,138.97 L128.05,139.51M128.35,142.46 L128.44,143.26 L128.54,144.06 L128.65,144.87 L128.76,145.67 L128.87,146.47 L129.00,147.27 L129.08,147.80M129.58,150.59 L129.73,151.39 L129.90,152.18 L130.07,152.97 L130.24,153.77 L130.43,154.56 L130.62,155.35 L130.76,155.88M131.56,158.76 L131.80,159.55 L132.05,160.33 L132.31,161.10 L132.58,161.87 L132.87,162.64 L133.17,163.40 L133.37,163.90M134.62,166.62 L135.00,167.34 L135.39,168.05 L135.80,168.76 L136.22,169.45 L136.66,170.13 L137.12,170.81 L137.44,171.25M139.37,173.70 L139.91,174.32 L140.46,174.92 L141.02,175.51 L141.59,176.09 L142.18,176.66 L142.78,177.21 L143.28,177.67M145.68,179.64 L146.32,180.13 L146.97,180.60 L147.63,181.06 L148.30,181.51 L148.97,181.94 L149.64,182.36 L150.33,182.77 L150.44,182.84M153.23,184.35 L153.94,184.70 L154.66,185.04 L155.38,185.37 L156.10,185.69 L156.83,185.99 L157.57,186.29 L158.31,186.58 L158.55,186.67M161.56,187.71 L162.33,187.95 L163.09,188.18 L163.86,188.40 L164.64,188.61 L165.41,188.82 L166.19,189.01 L166.98,189.20 L167.24,189.26M170.41,189.94 L171.21,190.09 L172.01,190.23 L172.81,190.37 L173.62,190.50 L174.43,190.63 L175.24,190.75 L176.05,190.87 L176.32,190.91M179.46,191.30 L180.28,191.40 L181.10,191.49 L181.93,191.57 L182.75,191.65 L183.58,191.73 L184.40,191.80 L185.23,191.87 L185.37,191.89M188.54,192.13 L189.37,192.19 L190.20,192.25 L191.03,192.31 L191.86,192.36 L192.69,192.41 L193.52,192.46 L194.34,192.51 L194.48,192.52M197.65,192.67 L198.48,192.70 L199.30,192.72 L200.12,192.75 L200.95,192.77 L201.77,192.78 L202.59,192.79 L203.41,192.79 L203.68,192.79M206.81,192.75 L207.63,192.73 L208.44,192.70 L209.25,192.66 L210.06,192.62 L210.87,192.57 L211.67,192.51 L212.48,192.44 L212.74,192.42M215.94,192.07 L216.73,191.96 L217.52,191.84 L218.31,191.72 L219.10,191.58 L219.89,191.44 L220.67,191.28 L221.45,191.12 L221.84,191.03M224.93,190.25 L225.69,190.03 L226.45,189.80 L227.21,189.55 L227.97,189.30 L228.72,189.03 L229.47,188.75 L230.22,188.46 L230.47,188.35M233.42,187.04 L234.15,186.68 L234.88,186.30 L235.60,185.91 L236.31,185.51 L237.03,185.09 L237.73,184.66 L238.42,184.21M240.95,182.34 L241.57,181.81 L242.17,181.26 L242.75,180.70 L243.31,180.12 L243.84,179.52 L244.36,178.90 L244.85,178.27M246.49,175.83 L246.90,175.14 L247.29,174.43 L247.67,173.72 L248.02,173.00 L248.37,172.27 L248.70,171.53 L248.97,170.91M250.05,168.15 L250.33,167.39 L250.59,166.63 L250.84,165.87 L251.09,165.10 L251.32,164.33 L251.55,163.56 L251.70,163.05M252.44,160.21 L252.62,159.43 L252.80,158.64 L252.97,157.86 L253.13,157.08 L253.28,156.29 L253.43,155.50 L253.55,154.84M254.00,151.93 L254.11,151.13 L254.22,150.34 L254.31,149.54 L254.40,148.74 L254.49,147.93 L254.57,147.13 L254.62,146.59M254.85,143.63 L254.90,142.82 L254.95,142.01 L254.99,141.20 L255.03,140.39 L255.07,139.57 L255.10,138.76 L255.11,138.35M255.18,135.35 L255.19,134.53 L255.20,133.71 L255.20,132.89 L255.20,132.07 L255.20,131.25 L255.19,130.43 L255.19,130.02M255.15,127.14 L255.14,126.32 L255.12,125.49 L255.10,124.67 L255.08,123.84 L255.06,123.02 L255.03,122.19 L255.02,121.64M254.92,118.76 L254.90,117.93 L254.87,117.11 L254.84,116.28 L254.81,115.46 L254.78,114.64 L254.76,113.81 L254.74,113.40M254.65,110.52 L254.62,109.70 L254.60,108.88 L254.58,108.06 L254.56,107.23 L254.54,106.41 L254.52,105.60 L254.51,105.05M254.46,102.19 L254.46,101.37 L254.45,100.56 L254.44,99.74 L254.44,98.93 L254.44,98.12 L254.44,97.30 L254.44,96.76M254.45,93.79 L254.46,92.98 L254.47,92.17 L254.48,91.36 L254.49,90.55 L254.50,89.74 L254.51,88.93 L254.52,88.53M254.58,85.57 L254.59,84.76 L254.61,83.95 L254.63,83.15 L254.65,82.34 L254.67,81.54 L254.69,80.73 L254.71,80.19M254.79,77.24 L254.81,76.44 L254.83,75.63 L254.85,74.83 L254.88,74.02 L254.90,73.22 L254.92,72.42 L254.94,71.88M255.03,68.93 L255.05,68.12 L255.07,67.32 L255.09,66.51 L255.12,65.71 L255.14,64.90 L255.16,64.10 L255.17,63.56M255.24,60.61 L255.26,59.80 L255.28,58.99 L255.30,58.19 L255.31,57.38 L255.33,56.57 L255.34,55.76 L255.35,55.22M255.39,52.26 L255.40,51.45 L255.40,50.64 L255.41,49.82 L255.41,49.01 L255.42,48.20 L255.42,47.39 L255.42,46.98M255.41,44.00 L255.40,43.18 L255.39,42.36 L255.38,41.55 L255.37,40.73 L255.35,39.91 L255.34,39.09 L255.33,38.54M255.25,35.67 L255.22,34.85 L255.19,34.02 L255.16,33.20 L255.13,32.37" stroke="#ff8080"/>
</g>
<g fill="none">
<line x1="22" y1="130.19" x2="356.9" y2="130.19" stroke="#808080" stroke-width="1.5" stroke-dasharray="6.1 3.065" stroke-dashoffset="1.25"/><text x="25.9" y="128.99" font-size="10.8" textLength="28.5" lengthAdjust="spacingAndGlyphs">n=5/4</text><line x1="22" y1="181.11" x2="356.9" y2="181.11" stroke="#808080" stroke-width="1.5" stroke-dasharray="6.1 3.065" stroke-dashoffset="1.25"/><text x="25.9" y="179.91" font-size="10.8" textLength="28.5" lengthAdjust="spacingAndGlyphs">n=3/4</text><line x1="22" y1="232.04" x2="356.9" y2="232.04" stroke="#808080" stroke-width="1.5" stroke-dasharray="6.1 3.065" stroke-dashoffset="1.25"/><text x="25.9" y="230.84" font-size="10.8" textLength="28.5" lengthAdjust="spacingAndGlyphs">n=1/4</text>
</g>
<g stroke="#000" stroke-width="1" fill="none">
<line x1="14.2" y1="257.5" x2="363.9" y2="257.5"/>
<line x1="21.5" y1="33.1" x2="21.5" y2="257.5"/>
</g>
<g stroke="#000" stroke-width="0.7" fill="none">
<line x1="21.50" y1="257.50" x2="21.50" y2="254.10"/><line x1="32.68" y1="257.50" x2="32.68" y2="255.40"/><line x1="43.86" y1="257.50" x2="43.86" y2="255.40"/><line x1="55.04" y1="257.50" x2="55.04" y2="255.40"/><line x1="66.22" y1="257.50" x2="66.22" y2="255.40"/><line x1="77.40" y1="257.50" x2="77.40" y2="254.10"/><line x1="88.58" y1="257.50" x2="88.58" y2="255.40"/><line x1="99.76" y1="257.50" x2="99.76" y2="255.40"/><line x1="110.94" y1="257.50" x2="110.94" y2="255.40"/><line x1="122.12" y1="257.50" x2="122.12" y2="255.40"/><line x1="133.30" y1="257.50" x2="133.30" y2="254.10"/><line x1="144.48" y1="257.50" x2="144.48" y2="255.40"/><line x1="155.66" y1="257.50" x2="155.66" y2="255.40"/><line x1="166.84" y1="257.50" x2="166.84" y2="255.40"/><line x1="178.02" y1="257.50" x2="178.02" y2="255.40"/><line x1="189.20" y1="257.50" x2="189.20" y2="254.10"/><line x1="200.38" y1="257.50" x2="200.38" y2="255.40"/><line x1="211.56" y1="257.50" x2="211.56" y2="255.40"/><line x1="222.74" y1="257.50" x2="222.74" y2="255.40"/><line x1="233.92" y1="257.50" x2="233.92" y2="255.40"/><line x1="245.10" y1="257.50" x2="245.10" y2="254.10"/><line x1="256.28" y1="257.50" x2="256.28" y2="255.40"/><line x1="267.46" y1="257.50" x2="267.46" y2="255.40"/><line x1="278.64" y1="257.50" x2="278.64" y2="255.40"/><line x1="289.82" y1="257.50" x2="289.82" y2="255.40"/><line x1="301.00" y1="257.50" x2="301.00" y2="254.10"/><line x1="312.18" y1="257.50" x2="312.18" y2="255.40"/><line x1="323.36" y1="257.50" x2="323.36" y2="255.40"/><line x1="334.54" y1="257.50" x2="334.54" y2="255.40"/><line x1="345.72" y1="257.50" x2="345.72" y2="255.40"/><line x1="356.90" y1="257.50" x2="356.90" y2="254.10"/><line x1="21.50" y1="247.31" x2="23.60" y2="247.31"/><line x1="21.50" y1="237.13" x2="23.60" y2="237.13"/><line x1="21.50" y1="226.94" x2="23.60" y2="226.94"/><line x1="21.50" y1="216.76" x2="23.60" y2="216.76"/><line x1="21.50" y1="206.57" x2="24.90" y2="206.57"/><line x1="21.50" y1="196.39" x2="23.60" y2="196.39"/><line x1="21.50" y1="186.21" x2="23.60" y2="186.21"/><line x1="21.50" y1="176.02" x2="23.60" y2="176.02"/><line x1="21.50" y1="165.84" x2="23.60" y2="165.84"/><line x1="21.50" y1="155.65" x2="24.90" y2="155.65"/><line x1="21.50" y1="145.47" x2="23.60" y2="145.47"/><line x1="21.50" y1="135.28" x2="23.60" y2="135.28"/><line x1="21.50" y1="125.09" x2="23.60" y2="125.09"/><line x1="21.50" y1="114.91" x2="23.60" y2="114.91"/><line x1="21.50" y1="104.73" x2="24.90" y2="104.73"/><line x1="21.50" y1="94.54" x2="23.60" y2="94.54"/><line x1="21.50" y1="84.36" x2="23.60" y2="84.36"/><line x1="21.50" y1="74.17" x2="23.60" y2="74.17"/><line x1="21.50" y1="63.99" x2="23.60" y2="63.99"/><line x1="21.50" y1="53.80" x2="24.90" y2="53.80"/><line x1="21.50" y1="43.62" x2="23.60" y2="43.62"/><line x1="21.50" y1="33.43" x2="23.60" y2="33.43"/>
</g>
<g font-size="13.5">
<text x="12.25" y="273.2" textLength="19.3" lengthAdjust="spacingAndGlyphs">3.0</text><text x="68.15" y="273.2" textLength="19.3" lengthAdjust="spacingAndGlyphs">3.5</text><text x="124.05" y="273.2" textLength="19.3" lengthAdjust="spacingAndGlyphs">4.0</text><text x="179.95" y="273.2" textLength="19.3" lengthAdjust="spacingAndGlyphs">4.5</text><text x="235.85" y="273.2" textLength="19.3" lengthAdjust="spacingAndGlyphs">5.0</text><text x="291.75" y="273.2" textLength="19.3" lengthAdjust="spacingAndGlyphs">5.5</text><text x="347.65" y="273.2" textLength="19.3" lengthAdjust="spacingAndGlyphs">6.0</text>
<text x="-0.7" y="211.42" textLength="19.3" lengthAdjust="spacingAndGlyphs">0.5</text><text x="-0.7" y="160.50" textLength="19.3" lengthAdjust="spacingAndGlyphs">1.0</text><text x="-0.7" y="109.58" textLength="19.3" lengthAdjust="spacingAndGlyphs">1.5</text><text x="-0.7" y="58.65" textLength="19.3" lengthAdjust="spacingAndGlyphs">2.0</text>
</g>
<g><line x1="300" y1="45.4" x2="322.5" y2="45.4" stroke="#0000ff" stroke-width="1.7"/><text x="332.3" y="48.8" font-size="11.8" textLength="19.6" lengthAdjust="spacingAndGlyphs">g=0</text><line x1="300" y1="56" x2="322.5" y2="56" stroke="#00ff00" stroke-width="1.7"/><text x="332.3" y="59.8" font-size="11.8" textLength="29.1" lengthAdjust="spacingAndGlyphs">g=0.5</text><line x1="300" y1="68.5" x2="322.5" y2="68.5" stroke="#ff8080" stroke-width="1.7"/><text x="332.3" y="72.5" font-size="11.8" textLength="29.1" lengthAdjust="spacingAndGlyphs">g=0.8</text><line x1="300.6" y1="81.2" x2="321.90000000000003" y2="81.2" stroke="#0000ff" stroke-width="1.7" stroke-dasharray="3.3 1.2"/><text x="332.3" y="85.2" font-size="11.8" textLength="19.6" lengthAdjust="spacingAndGlyphs">g=0</text><line x1="301.6" y1="93.9" x2="322.90000000000003" y2="93.9" stroke="#00ff00" stroke-width="1.7" stroke-dasharray="3.3 1.2"/><text x="332.3" y="97.5" font-size="11.8" textLength="29.1" lengthAdjust="spacingAndGlyphs">g=0.5</text><line x1="300.6" y1="107.0" x2="321.90000000000003" y2="107.0" stroke="#ff8080" stroke-width="1.7" stroke-dasharray="3.3 1.2"/><text x="332.3" y="110.8" font-size="11.8" textLength="29.1" lengthAdjust="spacingAndGlyphs">g=0.8</text></g>
<text x="114.5" y="9.7" font-size="13.4" textLength="28.9" lengthAdjust="spacingAndGlyphs">Orbit</text><text x="147.9" y="9.7" font-size="13.4" textLength="50.6" lengthAdjust="spacingAndGlyphs">numbers</text>
<text x="204.2" y="9.7" font-size="13.4" textLength="7.8" lengthAdjust="spacingAndGlyphs">n</text><text x="212.4" y="12.0" font-size="10.4">2</text>
<text x="223.4" y="9.7" font-size="13.4" textLength="24.3" lengthAdjust="spacingAndGlyphs">and</text>
<text x="250.1" y="9.7" font-size="13.4" textLength="7.8" lengthAdjust="spacingAndGlyphs">n</text><text x="257.8" y="12.0" font-size="10.4">3</text>
<text x="5.6" y="24" font-size="13.6">n</text><text x="12.9" y="26.9" font-size="10.4">2</text><text x="20" y="24" font-size="13.6">,</text>
<text x="24.3" y="24" font-size="13.6">n</text><text x="31.3" y="26.9" font-size="10.4">3</text>
<text x="199.3" y="164.9" font-size="15.6" textLength="9.5" lengthAdjust="spacingAndGlyphs">n</text><text x="208.6" y="168.3" font-size="12.8">3</text>
<text x="199.3" y="209.7" font-size="15.6" textLength="9.5" lengthAdjust="spacingAndGlyphs">n</text><text x="208.6" y="213.1" font-size="12.8">2</text>
<text x="373.4" y="261.9" font-size="13">b</text><text x="381.0" y="264.5" font-size="10.2">1</text><line x1="388.1" y1="263.2" x2="392.1" y2="252.5" stroke="#000" stroke-width="1.15"/><text x="392.3" y="261.9" font-size="13" textLength="10.4" lengthAdjust="spacingAndGlyphs">M</text><text x="402.8" y="264.5" font-size="10.2">1</text>
</svg>
</body></html>
